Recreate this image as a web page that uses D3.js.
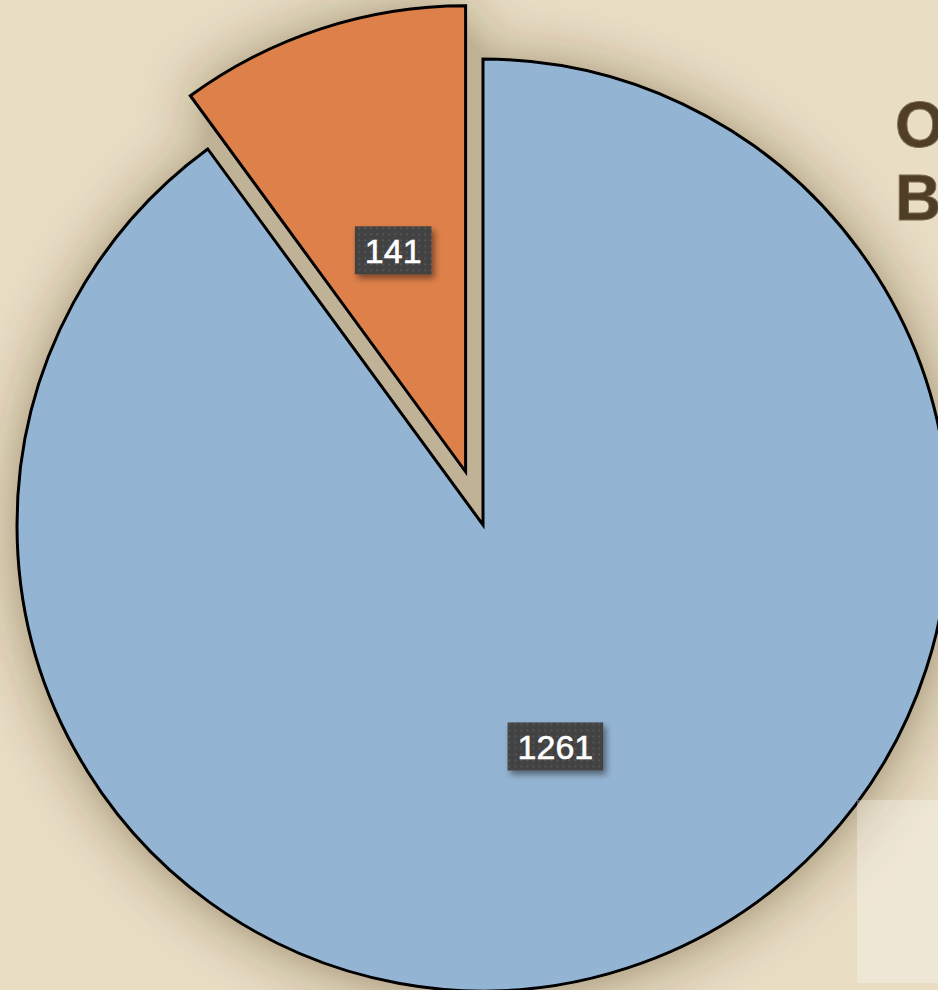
<!DOCTYPE html>
<html>
<head>
<meta charset="utf-8">
<script src="https://cdn.jsdelivr.net/npm/d3@7"></script>
<style>
  html, body { margin: 0; padding: 0; background: #e9ddc4; overflow: hidden; }
  svg { display: block; }
</style>
</head>
<body>
<svg id="chart" width="938" height="990"></svg>
<script>
let svgWidth = 938;
let svgHeight = 990;

let categories = ['Occupied', 'Available'];
let values = [1261, 141];
let colors = ['#94b4d3', '#de8049'];
let exploded = [false, true];
let titleLines = ['Occupancy', 'Beds'];

let cx = 483, cy = 525;
let radius = 466;
let explodeDist = 56;

let svg = d3.select('#chart');

let defs = svg.append('defs');

// soft shadow behind the pie, alpha capped so the gap isn't darker than the rim
let shadow = defs.append('filter')
    .attr('id', 'pieShadow')
    .attr('x', '-30%').attr('y', '-30%')
    .attr('width', '160%').attr('height', '160%');
shadow.append('feGaussianBlur').attr('in', 'SourceAlpha').attr('stdDeviation', 30).attr('result', 'blur');
shadow.append('feOffset').attr('in', 'blur').attr('dx', 1).attr('dy', 3).attr('result', 'off');
shadow.append('feComponentTransfer').attr('in', 'off').attr('result', 'capped')
    .append('feFuncA').attr('type', 'table').attr('tableValues', '0 0.55 0.55');
shadow.append('feFlood').attr('flood-color', '#3a2a12').attr('flood-opacity', 0.42);
shadow.append('feComposite').attr('in2', 'capped').attr('operator', 'in').attr('result', 'shade');
let merge = shadow.append('feMerge');
merge.append('feMergeNode').attr('in', 'shade');
merge.append('feMergeNode').attr('in', 'SourceGraphic');

let labelShadow = defs.append('filter')
    .attr('id', 'labelShadow')
    .attr('x', '-20%').attr('y', '-20%')
    .attr('width', '150%').attr('height', '160%');
labelShadow.append('feDropShadow')
    .attr('dx', 3).attr('dy', 4).attr('stdDeviation', 3)
    .attr('flood-color', '#000').attr('flood-opacity', 0.45);

// dotted fill for the label boxes
let pattern = defs.append('pattern')
    .attr('id', 'dots')
    .attr('width', 6).attr('height', 6)
    .attr('patternUnits', 'userSpaceOnUse');
pattern.append('rect').attr('width', 6).attr('height', 6).attr('fill', '#424242');
pattern.append('rect').attr('x', 1).attr('y', 1).attr('width', 2).attr('height', 2).attr('fill', '#555555');

// title (runs off the right edge, as in the source)
let title = svg.append('g').attr('class', 'title');
title.selectAll('text')
    .data(titleLines)
    .enter()
    .append('text')
    .attr('x', 895)
    .attr('y', (d, i) => 147 + i * 73)
    .attr('font-family', 'Liberation Sans, Arial, sans-serif')
    .attr('font-weight', 'bold')
    .attr('font-size', 64)
    .attr('fill', '#503e26')
    .attr('stroke', '#7a6a55')
    .attr('stroke-width', 1)
    .text(d => d);

let pie = d3.pie().sort(null).value(d => d.value);
let arc = d3.arc().innerRadius(0).outerRadius(radius);

let data = categories.map((c, i) => ({name: c, value: values[i], color: colors[i], explode: exploded[i]}));
let arcs = pie(data);

function offset(d) {
    if (!d.data.explode) return [0, 0];
    let mid = (d.startAngle + d.endAngle) / 2;
    return [Math.sin(mid) * explodeDist, -Math.cos(mid) * explodeDist];
}

let pieG = svg.append('g')
    .attr('transform', `translate(${cx},${cy})`)
    .attr('filter', 'url(#pieShadow)');

pieG.selectAll('path')
    .data(arcs)
    .enter()
    .append('path')
    .attr('transform', d => `translate(${offset(d)})`)
    .attr('d', arc)
    .attr('fill', d => d.data.color)
    .attr('stroke', '#000')
    .attr('stroke-width', 3)
    .attr('stroke-linejoin', 'miter');

// legend panel, mostly outside the visible area
let legend = svg.append('g').attr('class', 'legend');
legend.append('rect')
    .attr('x', 857).attr('y', 800)
    .attr('width', 200).attr('height', 183)
    .attr('fill', '#ffffff')
    .attr('fill-opacity', 0.3);

// value labels
let labels = svg.append('g')
    .attr('transform', `translate(${cx},${cy})`);

let lab = labels.selectAll('g')
    .data(arcs)
    .enter()
    .append('g')
    .attr('transform', d => {
        let o = offset(d);
        let c = arc.centroid(d);
        return `translate(${c[0] + o[0]},${c[1] + o[1]})`;
    });

lab.append('text')
    .attr('text-anchor', 'middle')
    .attr('dy', '0.36em')
    .attr('font-family', 'Liberation Sans, Arial, sans-serif')
    .attr('font-size', 34)
    .attr('fill', '#fff')
    .attr('stroke', '#fff')
    .attr('stroke-width', 0.6)
    .text(d => d.data.value)
    .each(function() {
        let b = this.getBBox();
        d3.select(this.parentNode).insert('rect', 'text')
            .attr('x', b.x - 10)
            .attr('y', -24)
            .attr('width', b.width + 20)
            .attr('height', 48)
            .attr('fill', 'url(#dots)')
            .attr('filter', 'url(#labelShadow)');
    });
</script>
</body>
</html>
